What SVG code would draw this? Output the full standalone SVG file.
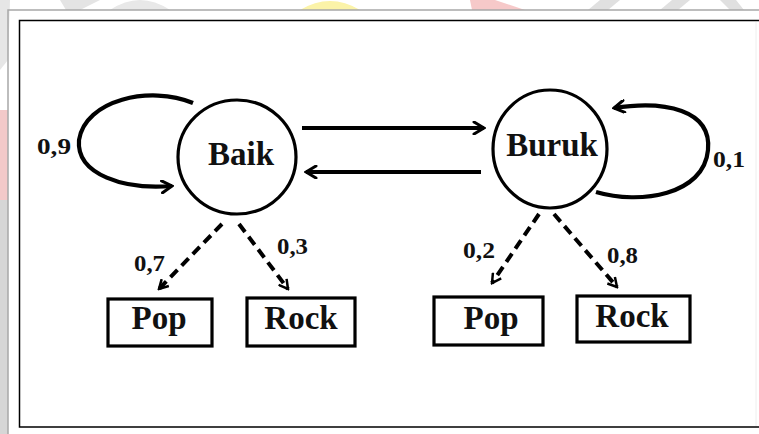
<svg xmlns="http://www.w3.org/2000/svg" width="759" height="434" viewBox="0 0 759 434">
  <style>
    .node { fill: none; stroke: #000; stroke-width: 3.2; }
    .lbl { font-family: "Liberation Serif", "Times New Roman", serif; font-weight: bold; fill: #111; }
    .big { font-size: 33px; }
    .small { font-size: 23px; }
    .solid { fill: none; stroke: #000; stroke-width: 4.2; }
    .dash { fill: none; stroke: #000; stroke-width: 4; stroke-dasharray: 10 6; }
  </style>
  <defs>
    <marker id="arr" viewBox="0 0 14 14" refX="12" refY="7" markerWidth="14" markerHeight="14" markerUnits="userSpaceOnUse" orient="auto">
      <path d="M2,1 L12,7 L2,13" fill="none" stroke="#000" stroke-width="3" stroke-linecap="round"/>
    </marker>
    <marker id="arrs" viewBox="0 0 12 12" refX="10" refY="6" markerWidth="12" markerHeight="12" markerUnits="userSpaceOnUse" orient="auto">
      <path d="M1,1 L10,6 L1,11" fill="none" stroke="#000" stroke-width="2.5"/>
    </marker>
  </defs>

  <g id="background">
    <rect x="0" y="0" width="759" height="434" fill="#fff"/>
    <rect x="0" y="200" width="8" height="234" fill="#d6d6d6"/>
    <rect x="0" y="110" width="8" height="90" fill="#f3c9c9"/>
    <polygon points="0,0 10,0 8,60 0,70" fill="#e6e6e6"/>
    <polygon points="60,0 100,0 80,10 66,10" fill="#e4e4e4"/>
    <path d="M110,10 Q140,-10 170,10 Z" fill="#e8e8e8"/>
    <path d="M300,10 Q330,-8 360,10 Z" fill="#fbf3a8"/>
    <polygon points="470,0 495,0 525,10 472,10" fill="#f6c9c9"/>
    <polygon points="588,10 600,0 620,0 608,10" fill="#e0e0e0"/>
    <polygon points="660,10 672,0 690,0 678,10" fill="#e0e0e0"/>
    <polygon points="720,0 736,0 744,10 730,10" fill="#e0e0e0"/>
    <polyline points="8,434 8,10 759,10" fill="none" stroke="#a8a8a8" stroke-width="1.5"/>
    <line x1="756" y1="22" x2="756" y2="426" stroke="#eeeeee" stroke-width="1"/>
    <polyline points="759,20.5 19.5,20.5 19.5,427 759,427" fill="none" stroke="#000" stroke-width="1.5"/>
  </g>

  <g id="connectors">
    <path class="solid" d="M193,103 C150,85 85,100 79,140 C76,175 125,190 172,186" marker-end="url(#arr)"/>
    <path class="solid" d="M596,192 C640,205 704,195 708,150 C712,110 665,100 614,108" marker-end="url(#arr)"/>
    <line class="solid" x1="302" y1="128" x2="484" y2="128" marker-end="url(#arr)"/>
    <line class="solid" x1="481" y1="172" x2="306" y2="172" marker-end="url(#arr)"/>
    <line class="dash" x1="222" y1="224" x2="159" y2="289" marker-end="url(#arrs)"/>
    <line class="dash" x1="239" y1="224" x2="288" y2="289" marker-end="url(#arrs)"/>
    <line class="dash" x1="539" y1="214" x2="492" y2="283" marker-end="url(#arrs)"/>
    <line class="dash" x1="554" y1="214" x2="617" y2="287" marker-end="url(#arrs)"/>
    <text class="lbl small" x="37" y="154" textLength="34" lengthAdjust="spacingAndGlyphs">0,9</text>
    <text class="lbl small" x="713" y="167" textLength="32" lengthAdjust="spacingAndGlyphs">0,1</text>
    <text class="lbl small" x="134" y="271" textLength="31" lengthAdjust="spacingAndGlyphs">0,7</text>
    <text class="lbl small" x="277" y="254" textLength="31" lengthAdjust="spacingAndGlyphs">0,3</text>
    <text class="lbl small" x="463" y="258" textLength="32" lengthAdjust="spacingAndGlyphs">0,2</text>
    <text class="lbl small" x="607" y="263" textLength="31" lengthAdjust="spacingAndGlyphs">0,8</text>
  </g>

  <g id="baik">
    <ellipse class="node" cx="237" cy="157" rx="59" ry="57"/>
    <text class="lbl big" x="241" y="165" text-anchor="middle">Baik</text>
  </g>
  <g id="buruk">
    <ellipse class="node" cx="550" cy="149" rx="57" ry="59"/>
    <text class="lbl big" x="552" y="156" text-anchor="middle">Buruk</text>
  </g>
  <g id="pop1">
    <rect class="node" x="108" y="299" width="104" height="47"/>
    <text class="lbl big" x="159" y="329" text-anchor="middle">Pop</text>
  </g>
  <g id="rock1">
    <rect class="node" x="247" y="298" width="108" height="48"/>
    <text class="lbl big" x="301" y="329" text-anchor="middle">Rock</text>
  </g>
  <g id="pop2">
    <rect class="node" x="434" y="297" width="109" height="48"/>
    <text class="lbl big" x="491" y="329" text-anchor="middle">Pop</text>
  </g>
  <g id="rock2">
    <rect class="node" x="577" y="296" width="113" height="46"/>
    <text class="lbl big" x="632" y="327" text-anchor="middle">Rock</text>
  </g>
</svg>
